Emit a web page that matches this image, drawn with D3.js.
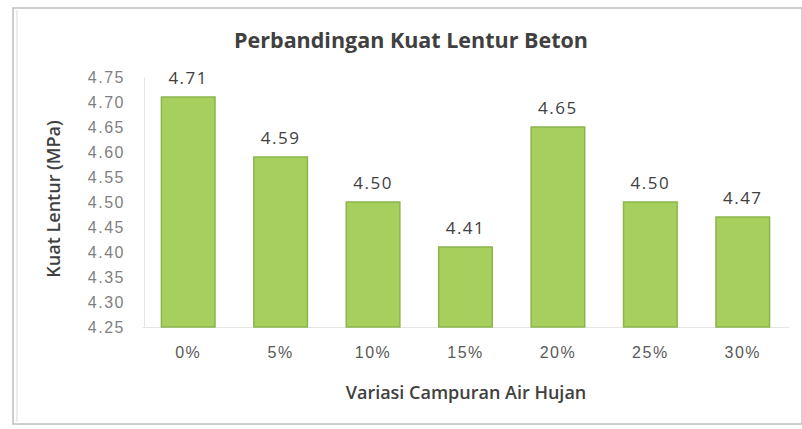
<!DOCTYPE html>
<html lang="id">
  <head>
    <meta charset="UTF-8" />
    <title>Perbandingan Kuat Lentur Beton</title>
    <style>
      body { margin: 0; background: #fff; }
      svg { display: block; font-family: "Open Sans", "Noto Sans", sans-serif; }
    </style>
  </head>
  <body>
    <div class="chart"></div>
    <script src="https://d3js.org/d3.v7.min.js"></script>
    <script>
      // data
      var categories = ["0%", "5%", "10%", "15%", "20%", "25%", "30%"];
      var values = [4.71, 4.59, 4.50, 4.41, 4.65, 4.50, 4.47];
      var yTicks = [4.25, 4.30, 4.35, 4.40, 4.45, 4.50, 4.55, 4.60, 4.65, 4.70, 4.75];

      var w = 802, h = 429;
      var margin = { top: 77, right: 13, bottom: 102, left: 142 };

      var svg = d3.select(".chart").append("svg")
        .attr("width", w)
        .attr("height", h);

      // outer chart frame
      svg.append("rect")
        .attr("x", 13).attr("y", 8)
        .attr("width", w - 13).attr("height", 416)
        .attr("fill", "#fff")
        .attr("stroke", "#bfbfbf")
        .attr("stroke-width", 1.5);
      svg.append("line")
        .attr("x1", 17).attr("x2", 17).attr("y1", 10).attr("y2", 422)
        .attr("stroke", "#d9d9d9");

      var x = d3.scaleBand()
        .domain(categories)
        .range([margin.left, w - margin.right])
        .paddingInner(0.42)
        .paddingOuter(0.21);

      var y = d3.scaleLinear()
        .domain([4.25, 4.75])
        .range([h - margin.bottom, margin.top]);

      // y axis
      var yAxis = svg.append("g")
        .attr("transform", "translate(" + (margin.left + 2) + ",0)")
        .call(d3.axisLeft(y).tickValues(yTicks).tickFormat(d3.format(".2f")).tickSize(0).tickPadding(19));
      yAxis.select(".domain").attr("stroke", "#e6e6e6");
      yAxis.selectAll("text")
        .attr("fill", "#7f7f7f")
        .style("font-size", "16px")
        .style("letter-spacing", "1.5px")
        .style("font-family", "'Liberation Sans', sans-serif");

      // x axis
      var xAxis = svg.append("g")
        .attr("transform", "translate(0," + y(4.25) + ")")
        .call(d3.axisBottom(x).tickSize(0).tickPadding(20));
      xAxis.select(".domain").attr("stroke", "#e6e6e6");
      xAxis.selectAll("text")
        .attr("fill", "#595959")
        .style("font-size", "16px")
        .style("letter-spacing", "1.5px");

      // bars
      svg.selectAll(".bar")
        .data(values)
        .enter()
        .append("rect")
        .attr("class", "bar")
        .attr("x", function(d, i) { return x(categories[i]); })
        .attr("y", function(d) { return y(d); })
        .attr("width", x.bandwidth())
        .attr("height", function(d) { return y(4.25) - y(d); })
        .attr("fill", "#a7cf5e")
        .attr("stroke", "#8cb64c")
        .attr("stroke-width", 1.5);

      // value labels
      svg.selectAll(".val")
        .data(values)
        .enter()
        .append("text")
        .attr("class", "val")
        .attr("x", function(d, i) { return x(categories[i]) + x.bandwidth() / 2; })
        .attr("y", function(d) { return y(d) - 13; })
        .attr("text-anchor", "middle")
        .attr("fill", "#404040")
        .style("font-size", "17px")
        .style("letter-spacing", "1.5px")
        .text(function(d) { return d3.format(".2f")(d); });

      // title
      svg.append("text")
        .attr("x", 411).attr("y", 48)
        .attr("text-anchor", "middle")
        .attr("fill", "#404040")
        .style("font-size", "21.5px")
        .style("font-weight", "bold")
        .text("Perbandingan Kuat Lentur Beton");

      // axis titles
      svg.append("text")
        .attr("x", 466).attr("y", 399)
        .attr("text-anchor", "middle")
        .attr("fill", "#404040")
        .style("font-size", "18px")
        .style("font-weight", "600")
        .text("Variasi Campuran Air Hujan");

      svg.append("text")
        .attr("transform", "translate(60,199) rotate(-90)")
        .attr("text-anchor", "middle")
        .attr("fill", "#404040")
        .style("font-size", "18px")
        .style("font-weight", "600")
        .text("Kuat Lentur (MPa)");
    </script>
  </body>
</html>
